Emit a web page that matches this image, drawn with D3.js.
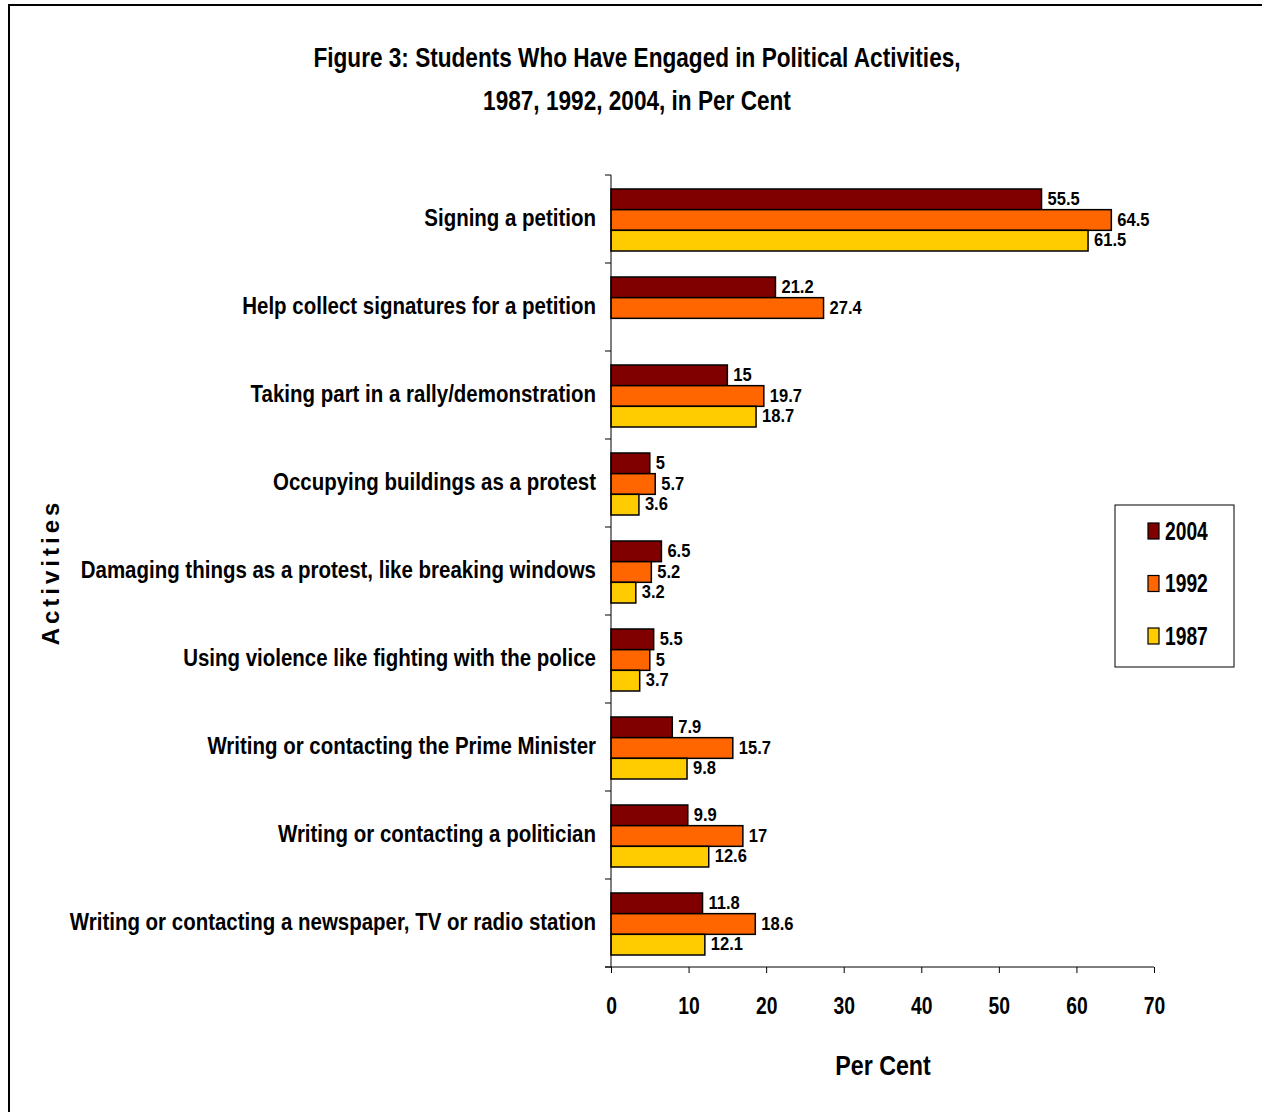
<!DOCTYPE html>
<meta charset="utf-8">
<html>
<head>
<script src="https://d3js.org/d3.v7.min.js"></script>
<style>
  body { margin: 0; background: white; }
  text { font-family: "Liberation Sans", Arial, sans-serif; font-weight: bold; fill: black; }
</style>
</head>
<body>
<div id="chart"></div>
<script>
// data
const activities = [
  "Signing a petition",
  "Help collect signatures for a petition",
  "Taking part in a rally/demonstration",
  "Occupying buildings as a protest",
  "Damaging things as a protest, like breaking windows",
  "Using violence like fighting with the police",
  "Writing or contacting the Prime Minister",
  "Writing or contacting a politician",
  "Writing or contacting a newspaper, TV or radio station"
];
const years = ["2004", "1992", "1987"];
const v2004 = [55.5, 21.2, 15, 5, 6.5, 5.5, 7.9, 9.9, 11.8];
const v1992 = [64.5, 27.4, 19.7, 5.7, 5.2, 5, 15.7, 17, 18.6];
const v1987 = [61.5, null, 18.7, 3.6, 3.2, 3.7, 9.8, 12.6, 12.1];
const xTicks = [0, 10, 20, 30, 40, 50, 60, 70];

const colors = { "2004": "#800000", "1992": "#FF6600", "1987": "#FFCC00" };
const seriesVals = { "2004": v2004, "1992": v1992, "1987": v1987 };

const W = 1262, H = 1112;
const x0 = 611, x1 = 1154, yTop = 175, yBot = 967;

// squeeze text horizontally to mimic a narrow bold face
function narrow(sel, k) {
  sel.each(function() {
    const w = this.getComputedTextLength();
    d3.select(this).attr("textLength", w * k).attr("lengthAdjust", "spacingAndGlyphs");
  });
}

const svg = d3.select("#chart").append("svg")
  .attr("width", W).attr("height", H);

// outer frame (only top and left edges show)
svg.append("rect")
  .attr("x", 9).attr("y", 5)
  .attr("width", W + 20).attr("height", H + 20)
  .attr("fill", "white").attr("stroke", "black").attr("stroke-width", 2);

// title
const t1 = svg.append("text").attr("x", 637).attr("y", 67)
  .attr("text-anchor", "middle").style("font-size", "27px")
  .text("Figure 3: Students Who Have Engaged in Political Activities,");
const t2 = svg.append("text").attr("x", 637).attr("y", 110)
  .attr("text-anchor", "middle").style("font-size", "27px")
  .text("1987, 1992, 2004, in Per Cent");
narrow(t1, 0.837);
narrow(t2, 0.837);

// scales
const x = d3.scaleLinear().domain([0, 70]).range([x0, x1]);
const y = d3.scaleBand().domain(activities).range([yTop, yBot]);
const yInner = d3.scaleBand().domain(years)
  .range([14, 14 + 62]);

// bars
const rows = [];
activities.forEach((a, i) => {
  years.forEach(yr => {
    const v = seriesVals[yr][i];
    if (v !== null) rows.push({ act: a, yr: yr, v: v });
  });
});

const g = svg.append("g");
g.selectAll("rect.bar").data(rows).enter().append("rect")
  .attr("class", "bar")
  .attr("x", x(0))
  .attr("y", d => y(d.act) + yInner(d.yr))
  .attr("width", d => x(d.v) - x(0))
  .attr("height", yInner.bandwidth())
  .attr("fill", d => colors[d.yr])
  .attr("stroke", "black").attr("stroke-width", 1.5);

// value labels
const vals = g.selectAll("text.val").data(rows).enter().append("text")
  .attr("class", "val")
  .attr("x", d => x(d.v) + 6)
  .attr("y", d => y(d.act) + yInner(d.yr) + yInner.bandwidth() / 2 - 1)
  .attr("dy", "0.35em")
  .style("font-size", "19px")
  .text(d => d.v);
narrow(vals, 0.87);

// x axis
const xAxis = svg.append("g")
  .attr("transform", "translate(0," + yBot + ")")
  .call(d3.axisBottom(x).tickValues(xTicks).tickSize(6).tickPadding(25));
xAxis.selectAll("text").style("font-size", "23px").attr("fill", "black");
xAxis.selectAll("line, path").attr("stroke", "black");
xAxis.select("path").attr("d", "M" + (x0 - 6) + ",0H" + x1);
narrow(xAxis.selectAll("text"), 0.84);

// y axis: tick marks at band edges, labels at band centres
const yAxis = svg.append("g").attr("transform", "translate(" + x0 + ",0)");
yAxis.append("line").attr("x1", 0).attr("x2", 0)
  .attr("y1", yTop).attr("y2", yBot).attr("stroke", "black");
const edges = activities.map(a => y(a)).concat([yBot]);
yAxis.selectAll("line.tk").data(edges).enter().append("line")
  .attr("class", "tk")
  .attr("x1", -6).attr("x2", 0)
  .attr("y1", d => d).attr("y2", d => d)
  .attr("stroke", "black");
const cats = yAxis.selectAll("text").data(activities).enter().append("text")
  .attr("x", -15)
  .attr("y", d => y(d) + y.bandwidth() / 2 - 1)
  .attr("dy", "0.35em")
  .attr("text-anchor", "end")
  .style("font-size", "23px")
  .text(d => d);
narrow(cats, 0.89);

// axis titles
const xt = svg.append("text").attr("x", 883).attr("y", 1075)
  .attr("text-anchor", "middle").style("font-size", "27px")
  .text("Per Cent");
narrow(xt, 0.86);
svg.append("text")
  .attr("transform", "translate(59,572) rotate(-90)")
  .attr("text-anchor", "middle")
  .style("font-size", "24px").style("letter-spacing", "4px")
  .text("Activities");

// legend
const leg = svg.append("g");
leg.append("rect").attr("x", 1115).attr("y", 505)
  .attr("width", 119).attr("height", 162)
  .attr("fill", "white").attr("stroke", "black").attr("stroke-width", 1);
years.forEach((yr, i) => {
  const cy = 531 + i * 52.5;
  leg.append("rect").attr("x", 1148).attr("y", cy - 8)
    .attr("width", 11).attr("height", 16)
    .attr("fill", colors[yr]).attr("stroke", "black").attr("stroke-width", 1.2);
  const lt = leg.append("text").attr("x", 1165).attr("y", cy).attr("dy", "0.35em")
    .style("font-size", "25px").text(yr);
  narrow(lt, 0.77);
});
</script>
</body>
</html>
